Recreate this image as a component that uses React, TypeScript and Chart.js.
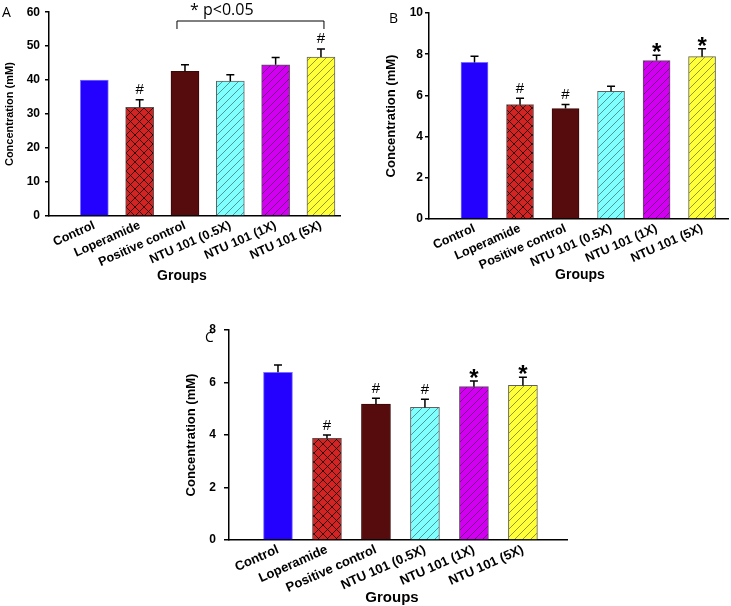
import React, { useEffect, useRef } from 'react';
import { Chart, registerables } from 'chart.js';
Chart.register(...registerables);

// ---------- data ----------
const groups = ['Control', 'Loperamide', 'Positive control', 'NTU 101 (0.5X)', 'NTU 101 (1X)', 'NTU 101 (5X)'];

const valuesA = [40.0, 32.0, 42.6, 39.7, 44.5, 46.8];
const errorsA = [0, 2.2, 1.9, 1.9, 2.2, 2.4];
const marksA = ['', '#', '', '', '', '#'];

const valuesB = [7.6, 5.55, 5.36, 6.2, 7.69, 7.88];
const errorsB = [0.3, 0.31, 0.2, 0.24, 0.26, 0.39];
const marksB = ['', '#', '#', '', '*', '*'];

const valuesC = [6.39, 3.87, 5.18, 5.05, 5.84, 5.89];
const errorsC = [0.28, 0.13, 0.22, 0.31, 0.22, 0.31];
const marksC = ['', '#', '#', '#', '*', '*'];

const yTitle = 'Concentration (mM)';
const xTitle = 'Groups';
const sigLabel = '* p<0.05';
const sigFrom = 2; // Positive control
const sigTo = 5; // NTU 101 (5X)

// ---------- styles ----------
const fills = ['#2400ff', '#d42323', '#560c0c', '#80ffff', '#d200f0', '#ffff3a'];
const hatches = ['none', 'cross', 'none', 'diag', 'diag', 'diag'];
const borders = ['#7a70ff', '#555555', '#3a0808', '#606060', '#555555', '#606060'];
const SANS = '"Liberation Sans", Arial, sans-serif';
const OPEN = '"Open Sans", "Liberation Sans", sans-serif';

type Panel = {
  letter: string;
  values: number[];
  errors: number[];
  marks: string[];
  yMax: number;
  yStep: number;
  xMax: number;
  box: { left: number; top: number; width: number; height: number };
  padding: { top: number; right: number; bottom: number; left: number };
  yWidth: number;
  xHeight: number;
  barThickness: number;
  tickFont: number;
  labelFont: number;
  yTitleFont: number;
  xTitleFont: number;
  tickPad: number;
  tickLen: number;
  yTitlePad: number;
  xTickPad: number;
  rot: number;
  letterPos: [number, number];
  xTitlePos: [number, number];
  bracket: boolean;
};

const panels: Panel[] = [
  {
    letter: 'A', values: valuesA, errors: errorsA, marks: marksA,
    yMax: 60, yStep: 10, xMax: 6.42,
    box: { left: 0, top: 0, width: 348, height: 285 },
    padding: { top: 11, right: 8, bottom: 0, left: 0 },
    yWidth: 49, xHeight: 69, barThickness: 28,
    tickFont: 12, labelFont: 12.5, yTitleFont: 11, xTitleFont: 14,
    tickPad: 5, tickLen: 4, yTitlePad: 3, xTickPad: 2, rot: 24,
    letterPos: [2, 17], xTitlePos: [182, 276], bracket: true,
  },
  {
    letter: 'B', values: valuesB, errors: errorsB, marks: marksB,
    yMax: 10, yStep: 2, xMax: 6.57,
    box: { left: 370, top: 0, width: 361, height: 285 },
    padding: { top: 13, right: 3, bottom: 0, left: 0 },
    yWidth: 59, xHeight: 66, barThickness: 27,
    tickFont: 12, labelFont: 12.5, yTitleFont: 13, xTitleFont: 14,
    tickPad: 2, tickLen: 4, yTitlePad: 14, xTickPad: 2, rot: 24,
    letterPos: [19, 23], xTitlePos: [210, 275], bracket: false,
  },
  {
    letter: 'C', values: valuesC, errors: errorsC, marks: marksC,
    yMax: 8, yStep: 2, xMax: 6.9,
    box: { left: 170, top: 300, width: 410, height: 306 },
    padding: { top: 30, right: 13, bottom: 0, left: 0 },
    yWidth: 59, xHeight: 66, barThickness: 29,
    tickFont: 12, labelFont: 13, yTitleFont: 13, xTitleFont: 15,
    tickPad: 8, tickLen: 5, yTitlePad: 14, xTickPad: 2, rot: 24,
    letterPos: [35, 42], xTitlePos: [222, 298], bracket: false,
  },
];

function makePattern(color: string, kind: string): CanvasPattern | string {
  if (kind === 'none') return color;
  const s = kind === 'cross' ? 9 : 8;
  const c = document.createElement('canvas');
  c.width = s;
  c.height = s;
  const g = c.getContext('2d')!;
  g.fillStyle = color;
  g.fillRect(0, 0, s, s);
  g.strokeStyle = kind === 'cross' ? 'rgba(0,0,0,0.75)' : 'rgba(0,0,0,0.5)';
  g.lineWidth = kind === 'cross' ? 1 : 0.8;
  g.beginPath();
  g.moveTo(-1, s + 1); g.lineTo(s + 1, -1);
  g.moveTo(-1, 1); g.lineTo(1, -1);
  g.moveTo(s - 1, s + 1); g.lineTo(s + 1, s - 1);
  if (kind === 'cross') {
    g.moveTo(-1, -1); g.lineTo(s + 1, s + 1);
    g.moveTo(s - 1, -1); g.lineTo(s + 1, 1);
    g.moveTo(-1, s - 1); g.lineTo(1, s + 1);
  }
  g.stroke();
  return g.createPattern(c, 'repeat')!;
}

function makeAnnot(p: Panel) {
  return {
    id: 'annot' + p.letter,
    afterDatasetsDraw(chart: any) {
      const ctx: CanvasRenderingContext2D = chart.ctx;
      const ys = chart.scales.y;
      const xs = chart.scales.x;
      const meta = chart.getDatasetMeta(0);
      ctx.save();
      p.values.forEach((v, i) => {
        const bar = meta.data[i];
        const x = bar.x;
        const top = ys.getPixelForValue(v + p.errors[i]);
        if (p.errors[i] > 0) {
          ctx.strokeStyle = '#000';
          ctx.lineWidth = 1.5;
          ctx.beginPath();
          ctx.moveTo(x, ys.getPixelForValue(v));
          ctx.lineTo(x, top);
          ctx.moveTo(x - 4, top);
          ctx.lineTo(x + 4, top);
          ctx.stroke();
        }
        const m = p.marks[i];
        ctx.fillStyle = '#000';
        ctx.textAlign = 'center';
        ctx.textBaseline = 'alphabetic';
        if (m === '#') {
          ctx.font = `15px ${SANS}`;
          ctx.fillText('#', x, top - 5.5);
        } else if (m === '*') {
          ctx.font = `bold 24px ${SANS}`;
          ctx.fillText('*', x, top + 5);
        }
      });
      if (p.bracket) {
        const l = xs.getPixelForValue(sigFrom + 1) - 8;
        const r = xs.getPixelForValue(sigTo + 1) + 3;
        ctx.strokeStyle = '#000';
        ctx.lineWidth = 1;
        ctx.beginPath();
        ctx.moveTo(l, 29);
        ctx.lineTo(l, 21);
        ctx.lineTo(r, 21);
        ctx.lineTo(r, 29);
        ctx.stroke();
        ctx.font = `16px ${OPEN}`;
        ctx.textAlign = 'left';
        ctx.fillText(sigLabel, l + 13, 14.5);
      }
      ctx.restore();
    },
    afterDraw(chart: any) {
      const ctx: CanvasRenderingContext2D = chart.ctx;
      ctx.save();
      ctx.fillStyle = '#000';
      ctx.font = `14px ${OPEN}`;
      ctx.textAlign = 'left';
      ctx.textBaseline = 'alphabetic';
      ctx.fillText(p.letter, p.letterPos[0], p.letterPos[1]);
      ctx.font = `bold ${p.xTitleFont}px ${SANS}`;
      ctx.textAlign = 'center';
      ctx.textBaseline = 'middle';
      ctx.fillText(xTitle, p.xTitlePos[0], p.xTitlePos[1]);
      ctx.restore();
    },
  };
}

function PanelChart({ p }: { p: Panel }) {
  const ref = useRef<HTMLCanvasElement>(null);
  useEffect(() => {
    const canvas = ref.current!;
    const bg = groups.map((_, i) => makePattern(fills[i], hatches[i]));
    const chart = new Chart(canvas, {
      type: 'bar',
      data: {
        datasets: [
          {
            data: p.values.map((v, i) => ({ x: i + 1, y: v })) as any,
            backgroundColor: bg as any,
            borderColor: borders,
            borderWidth: 1,
            barThickness: p.barThickness,
          },
        ],
      },
      options: {
        responsive: false,
        animation: false,
        devicePixelRatio: 1,
        layout: { padding: p.padding },
        plugins: { legend: { display: false }, tooltip: { enabled: false } },
        scales: {
          x: {
            type: 'linear',
            min: 0,
            max: p.xMax,
            offset: false,
            grid: { display: false, drawTicks: false },
            border: { display: true, color: '#000', width: 1.5 },
            afterBuildTicks: (s: any) => {
              s.ticks = groups.map((_, i) => ({ value: i + 1 }));
            },
            afterFit: (s: any) => {
              s.height = p.xHeight;
            },
            ticks: {
              autoSkip: false,
              minRotation: p.rot,
              maxRotation: p.rot,
              padding: p.xTickPad,
              color: '#000',
              font: { family: SANS, weight: 'bold', size: p.labelFont },
              callback: (v: any) => groups[Number(v) - 1] ?? '',
            },
          },
          y: {
            min: 0,
            max: p.yMax,
            ticks: {
              stepSize: p.yStep,
              padding: p.tickPad,
              color: '#000',
              font: { family: SANS, weight: 'bold', size: p.tickFont },
            },
            grid: {
              display: true,
              drawOnChartArea: false,
              drawTicks: true,
              tickLength: p.tickLen,
              color: '#000',
              lineWidth: 1.5,
            },
            border: { display: true, color: '#000', width: 1.5 },
            title: {
              display: true,
              text: yTitle,
              color: '#000',
              font: { family: SANS, weight: 'bold', size: p.yTitleFont },
              padding: { top: p.yTitlePad, bottom: 0 },
            },
            afterFit: (s: any) => {
              s.width = p.yWidth;
            },
          },
        },
      } as any,
      plugins: [makeAnnot(p)],
    });
    return () => chart.destroy();
  }, [p]);
  return (
    <canvas
      ref={ref}
      width={p.box.width}
      height={p.box.height}
      style={{
        position: 'absolute',
        left: p.box.left,
        top: p.box.top,
        width: p.box.width,
        height: p.box.height,
      }}
    />
  );
}

export default function App() {
  return (
    <div style={{ position: 'absolute', left: 0, top: 0, width: 731, height: 606, background: '#fff', overflow: 'hidden' }}>
      {panels.map((p) => (
        <PanelChart key={p.letter} p={p} />
      ))}
    </div>
  );
}
